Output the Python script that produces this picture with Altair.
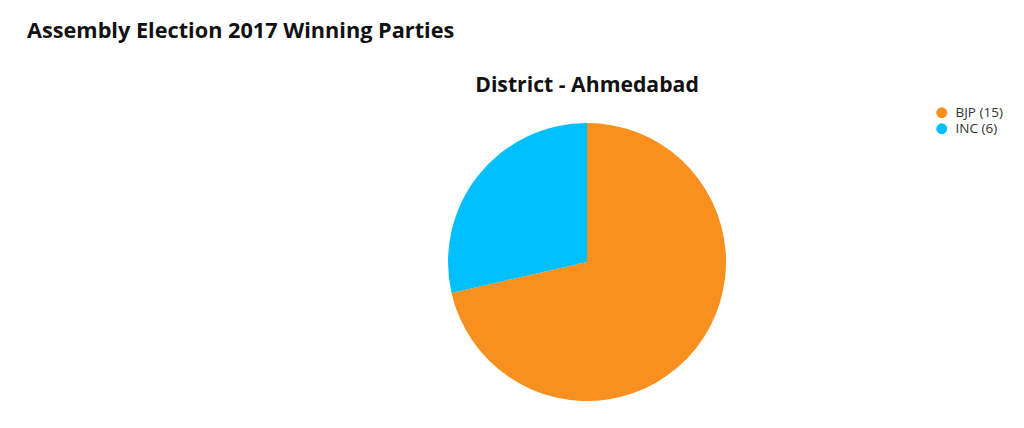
import altair as alt
import pandas as pd

parties = ["BJP", "INC"]
seats = [15, 6]
labels = ["BJP (15)", "INC (6)"]
colors = ["#F7901E", "#00BFFF"]

df = pd.DataFrame({"party": parties, "seats": seats, "label": labels, "order": [0, 1]})

W, H = 1008, 412

pie = alt.Chart(df).mark_arc(radius=139, stroke=None).encode(
    theta=alt.Theta("seats:Q", stack=True),
    order=alt.Order("order:Q"),
    color=alt.Color(
        "label:N",
        scale=alt.Scale(domain=labels, range=colors),
        legend=alt.Legend(
            title=None, orient="none", legendX=927, legendY=98,
            symbolType="circle", symbolSize=120, labelFont="Open Sans",
            labelFontSize=13.5, labelColor="#333333", rowPadding=1, symbolStrokeWidth=0,
            labelOffset=7,
        ),
    ),
    x=alt.value(579),
    y=alt.value(254),
)

title_df = pd.DataFrame({"t": ["Assembly Election 2017 Winning Parties"]})
title = alt.Chart(title_df).mark_text(
    font="Open Sans", fontSize=21.7, fontWeight="bold", align="left", baseline="alphabetic", color="#111111"
).encode(text="t:N", x=alt.value(19), y=alt.value(30))

sub_df = pd.DataFrame({"t": ["District - Ahmedabad"]})
sub = alt.Chart(sub_df).mark_text(
    font="Open Sans", fontSize=21.2, fontWeight="bold", align="center", baseline="alphabetic", color="#111111"
).encode(text="t:N", x=alt.value(579), y=alt.value(84))

chart = alt.layer(pie, title, sub).properties(
    width=W, height=H, padding=0, background="white"
).configure_view(stroke=None)

chart.save("out.html", embed_options={"renderer": "svg", "actions": False})
